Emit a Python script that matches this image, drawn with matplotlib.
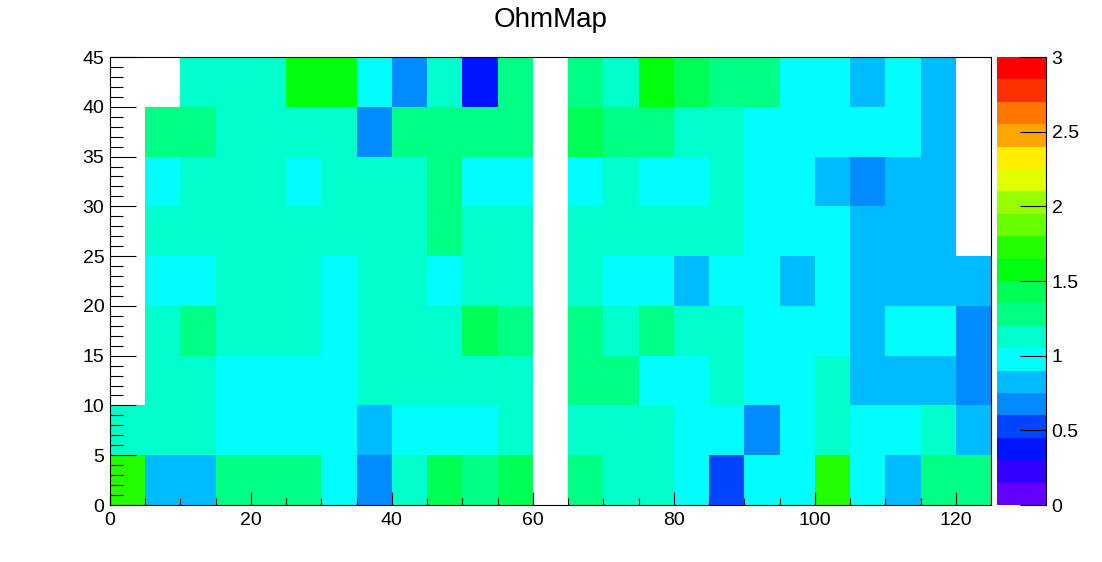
import colorsys
import matplotlib
matplotlib.use("Agg")
import matplotlib.pyplot as plt
import numpy as np
from matplotlib.colors import ListedColormap, BoundaryNorm
from matplotlib.ticker import MultipleLocator

plt.rcParams['font.family'] = ['Liberation Sans', 'DejaVu Sans']

# bordes de los bins
x_edges = np.arange(0, 130, 5)
y_edges = np.arange(0, 50, 5)

# valores por fila (y = 0-5 abajo ... 40-45 arriba), nan = bin vacio
n = np.nan
fila_00 = [1.72, 0.82, 0.82, 1.28, 1.28, 1.28, 0.97, 0.68, 1.12, 1.42, 1.28, 1.42, n, 1.28, 1.12, 1.12, 0.97, 0.52, 0.97, 0.97, 1.72, 0.97, 0.82, 1.28, 1.28]
fila_05 = [1.12, 1.12, 1.12, 0.97, 0.97, 0.97, 0.97, 0.82, 0.97, 0.97, 0.97, 1.12, n, 1.12, 1.12, 1.12, 0.97, 0.97, 0.68, 0.97, 1.12, 0.97, 0.97, 1.12, 0.82]
fila_10 = [n, 1.12, 1.12, 0.97, 0.97, 0.97, 0.97, 1.12, 1.12, 1.12, 1.12, 1.12, n, 1.28, 1.28, 0.97, 0.97, 1.12, 0.97, 0.97, 1.12, 0.82, 0.82, 0.82, 0.68]
fila_15 = [n, 1.12, 1.28, 1.12, 1.12, 1.12, 0.97, 1.12, 1.12, 1.12, 1.42, 1.28, n, 1.28, 1.12, 1.28, 1.12, 1.12, 0.97, 0.97, 0.97, 0.82, 0.97, 0.97, 0.68]
fila_20 = [n, 0.97, 0.97, 1.12, 1.12, 1.12, 0.97, 1.12, 1.12, 0.97, 1.12, 1.12, n, 1.12, 0.97, 0.97, 0.82, 0.97, 0.97, 0.82, 0.97, 0.82, 0.82, 0.82, 0.82]
fila_25 = [n, 1.12, 1.12, 1.12, 1.12, 1.12, 1.12, 1.12, 1.12, 1.28, 1.12, 1.12, n, 1.12, 1.12, 1.12, 1.12, 1.12, 0.97, 0.97, 0.97, 0.82, 0.82, 0.82, n]
fila_30 = [n, 0.97, 1.12, 1.12, 1.12, 0.97, 1.12, 1.12, 1.12, 1.28, 0.97, 0.97, n, 0.97, 1.12, 0.97, 0.97, 1.12, 0.97, 0.97, 0.82, 0.68, 0.82, 0.82, n]
fila_35 = [n, 1.28, 1.28, 1.12, 1.12, 1.12, 1.12, 0.68, 1.28, 1.28, 1.28, 1.28, n, 1.42, 1.28, 1.28, 1.12, 1.12, 0.97, 0.97, 0.97, 0.97, 0.97, 0.82, n]
fila_40 = [n, n, 1.12, 1.12, 1.12, 1.58, 1.58, 0.97, 0.68, 1.12, 0.38, 1.28, n, 1.28, 1.12, 1.58, 1.42, 1.28, 1.28, 0.97, 0.97, 0.82, 0.97, 0.82, n]

ohm = np.array([fila_00, fila_05, fila_10, fila_15, fila_20, fila_25, fila_30, fila_35, fila_40])

z_min, z_max, n_contornos = 0, 3, 20
cbar_ticks = [0, 0.5, 1, 1.5, 2, 2.5, 3]

# paleta tipo ROOT (violeta -> rojo, 50 colores, 20 contornos)
paleta = []
for i in range(50):
    hue = (280 - (i + 1) * 280 / 50) / 360
    paleta.append(colorsys.hls_to_rgb(hue, 0.5, 1.0))
colores = [paleta[int((k + 0.99) * 50 / n_contornos)] for k in range(n_contornos)]
cmap = ListedColormap(colores)
cmap.set_bad('white')
niveles = np.linspace(z_min, z_max, n_contornos + 1)
norm = BoundaryNorm(niveles, n_contornos)

W, H = 1102, 562
fig = plt.figure(figsize=(W / 100, H / 100), dpi=100)
ax = fig.add_axes([110 / W, (H - 505) / H, 881 / W, 448 / H])
cax = fig.add_axes([997 / W, (H - 505) / H, 49 / W, 448 / H])

mapa = ax.pcolormesh(x_edges, y_edges, np.ma.masked_invalid(ohm), cmap=cmap, norm=norm)
ax.set_xlim(0, 125)
ax.set_ylim(0, 45)

ax.xaxis.set_major_locator(MultipleLocator(20))
ax.xaxis.set_minor_locator(MultipleLocator(5))
ax.yaxis.set_major_locator(MultipleLocator(5))
ax.yaxis.set_minor_locator(MultipleLocator(1))
ax.tick_params(axis='x', which='major', direction='in', length=9.5, width=0.8, labelsize=14, pad=5)
ax.tick_params(axis='x', which='minor', direction='in', length=4.7, width=0.8)
ax.tick_params(axis='y', which='major', direction='in', length=19, width=0.8, labelsize=14, pad=4)
ax.tick_params(axis='y', which='minor', direction='in', length=9.5, width=0.8)
for s in ax.spines.values():
    s.set_linewidth(0.8)

cb = fig.colorbar(mapa, cax=cax, boundaries=niveles, ticks=cbar_ticks, format='%g')
cb.outline.set_visible(False)
cax.spines['right'].set_visible(True)
cax.spines['right'].set_linewidth(0.8)
cax.tick_params(axis='y', direction='in', length=19, width=0.8, labelsize=14, pad=4)
cax.minorticks_off()

fig.text(0.5, 1 - 20 / H, 'OhmMap', ha='center', va='center', fontsize=20)

plt.savefig('out.png', dpi=100)
